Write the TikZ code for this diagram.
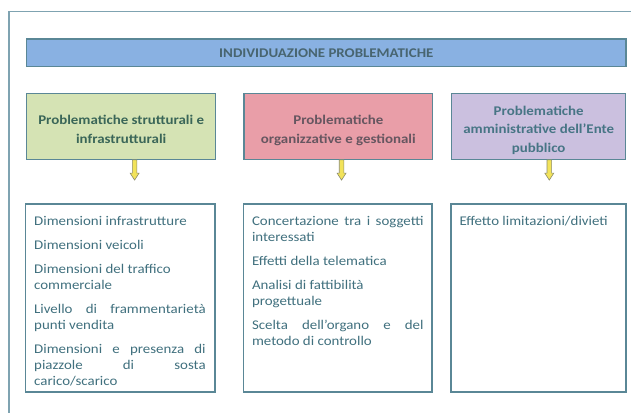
\documentclass[tikz,border=0pt]{standalone}
\usepackage{fontspec}
\setmainfont{Carlito}[FakeStretch=1.12]
\definecolor{framec}{HTML}{7FA3B1}
\definecolor{boxc}{HTML}{5A8796}
\definecolor{titlefill}{HTML}{89B1E2}
\definecolor{titletext}{HTML}{486570}
\definecolor{greenfill}{HTML}{D5E3B4}
\definecolor{greentext}{HTML}{3A6658}
\definecolor{pinkfill}{HTML}{E99EA8}
\definecolor{pinktext}{HTML}{665660}
\definecolor{purplefill}{HTML}{CBC0DF}
\definecolor{purpletext}{HTML}{477585}
\definecolor{bodytext}{HTML}{40707E}
\definecolor{arrowfill}{HTML}{F2E35A}
\definecolor{arrowdraw}{HTML}{8C8C6E}
\newcommand{\tblock}[3]{\vtop{\hsize=#1\relax\parindent=0pt\parskip=0pt#2#3\par}}
\begin{document}
\begin{tikzpicture}[x=1pt,y=-1pt,
  boxstyle/.style={draw=boxc,line width=1.2pt,rectangle,inner sep=0pt},
  headtext/.style={inner sep=0pt,anchor=base,font=\bfseries},
  bodystyle/.style={inner sep=0pt,anchor=base west,text=bodytext},
  yarrow/.style={draw=arrowdraw,fill=arrowfill,line width=0.6pt,line join=miter}]
\useasboundingbox (0,0) rectangle (631,412);
\fill[white] (0,0) rectangle (631,412);
\draw[framec,line width=1.2pt] (9,413) -- (9,11.7) -- (632,11.7);
% title
\node[boxstyle,fill=titlefill,minimum width=599.3pt,minimum height=27.7pt] (title) at (326.35,52.85) {};
\node[headtext,text=titletext] (titletxt) at (326.35,57.6) {\fontsize{13.3}{16}\selectfont INDIVIDUAZIONE PROBLEMATICHE};
% header boxes
\node[boxstyle,fill=greenfill,minimum width=189pt,minimum height=65.8pt] (h1) at (121.2,126.4) {};
\node[boxstyle,fill=pinkfill,minimum width=188.7pt,minimum height=65.8pt] (h2) at (338.35,126.4) {};
\node[boxstyle,fill=purplefill,minimum width=174pt,minimum height=65.8pt] (h3) at (538.7,126.4) {};
\node[headtext,text=greentext] (h1t) at (121.2,124.2) {\tblock{185pt}{\centering\fontsize{13.3}{19.2}\selectfont}{Problematiche strutturali e\\infrastrutturali}};
\node[headtext,text=pinktext] (h2t) at (338.35,124.2) {\tblock{185pt}{\centering\fontsize{13.3}{19.2}\selectfont}{Problematiche\\organizzative e gestionali}};
\node[headtext,text=purpletext] (h3t) at (538.7,115.2) {\tblock{172pt}{\centering\fontsize{13.3}{18.6}\selectfont}{Problematiche\\amministrative dell’Ente\\pubblico}};
% lower boxes
\node[boxstyle,minimum width=189.5pt,minimum height=188pt] (b1) at (120.25,298) {};
\node[boxstyle,minimum width=188.5pt,minimum height=188pt] (b2) at (337.75,298) {};
\node[boxstyle,minimum width=175pt,minimum height=188pt] (b3) at (538.5,298) {};
% arrows
\draw[yarrow] ([xshift=13.4pt]h1.south) ++(-2.3,0) -- ++(0,13.2) -- ++(-2.2,0) -- ++(4.5,7) -- ++(4.5,-7) -- ++(-2.2,0) -- ++(0,-13.2) -- cycle;
\draw[yarrow] ([xshift=3.2pt]h2.south) ++(-2.3,0) -- ++(0,13.2) -- ++(-2.2,0) -- ++(4.5,7) -- ++(4.5,-7) -- ++(-2.2,0) -- ++(0,-13.2) -- cycle;
\draw[yarrow] ([xshift=10.6pt]h3.south) ++(-2.3,0) -- ++(0,13.2) -- ++(-2.2,0) -- ++(4.5,7) -- ++(4.5,-7) -- ++(-2.2,0) -- ++(0,-13.2) -- cycle;
% body texts
\node[bodystyle] (b1t) at (34,225) {\tblock{171.5pt}{\raggedright\fontsize{13.3}{16}\selectfont}{%
Dimensioni infrastrutture\\[8pt]
Dimensioni veicoli\\[8pt]
Dimensioni del traffico\\
commerciale\\[8pt]
\makebox[\hsize][s]{Livello di frammentarietà}\\
punti vendita\\[8pt]
\makebox[\hsize][s]{Dimensioni e presenza di}\\
\makebox[\hsize][s]{piazzole di sosta}\\
carico/scarico}};
\node[bodystyle] (b2t) at (251.8,225) {\tblock{171.5pt}{\raggedright\fontsize{13.3}{16}\selectfont}{%
\makebox[\hsize][s]{Concertazione tra i soggetti}\\
interessati\\[8pt]
Effetti della telematica\\[8pt]
Analisi di fattibilità\\
progettuale\\[8pt]
\makebox[\hsize][s]{Scelta dell’organo e del}\\
metodo di controllo}};
\node[bodystyle] (b3t) at (459.3,225) {\fontsize{13.3}{16}\selectfont Effetto limitazioni/divieti};
\end{tikzpicture}
\end{document}
